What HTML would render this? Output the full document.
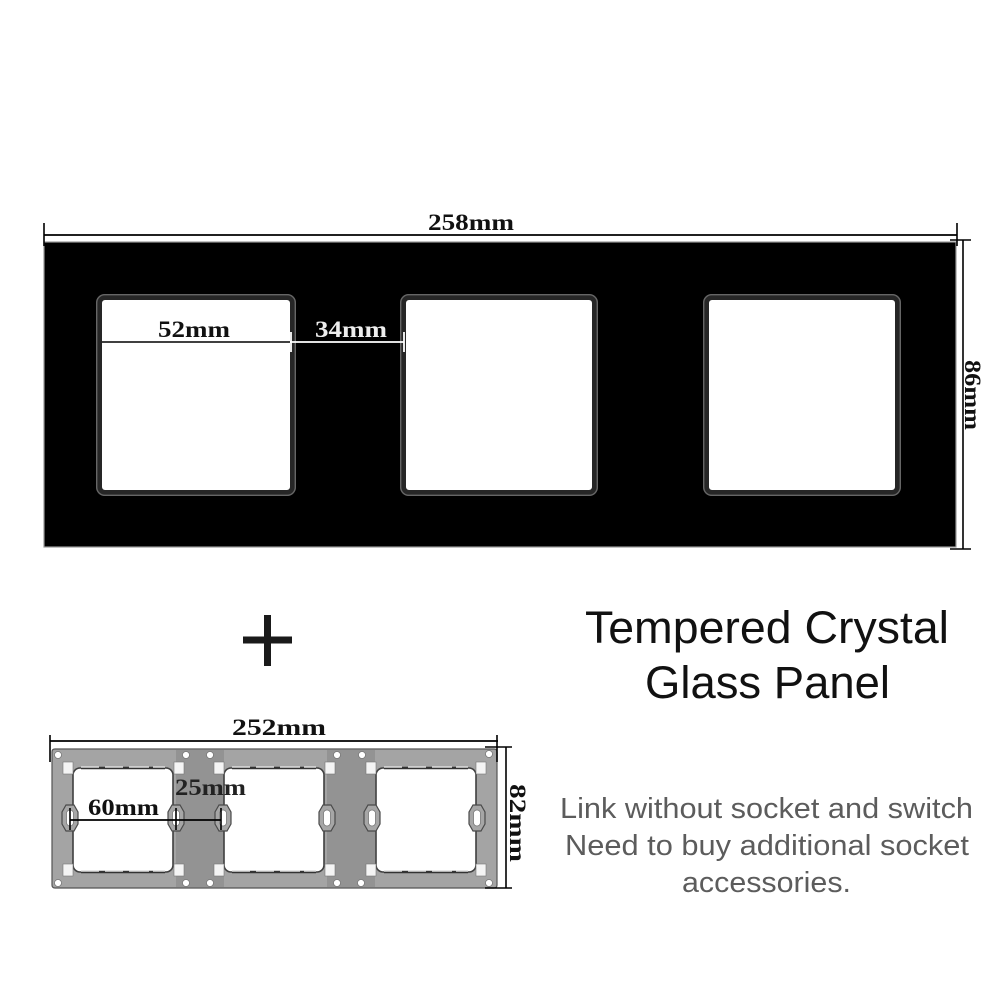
<!DOCTYPE html>
<html><head><meta charset="utf-8"><style>
html,body{margin:0;padding:0;background:#fff}
svg{display:block}
.s{font-family:"Liberation Serif",serif;font-weight:bold;font-size:23px}
.a{font-family:"Liberation Sans",sans-serif}
</style></head><body>
<svg width="1001" height="1001" viewBox="0 0 1001 1001" xmlns="http://www.w3.org/2000/svg">
<defs>
<g id="slot"><path d="M-4 -13 L4 -13 L8 -6 L8 6 L4 13 L-4 13 L-8 6 L-8 -6 Z" fill="#a6a6a6" stroke="#4a4a4a" stroke-width="1.2"/><rect x="-3.5" y="-8" width="7" height="16" rx="3.5" fill="#fff" stroke="#777" stroke-width=".8"/></g>
<g id="open"><rect x="0" y="0" width="100" height="104" rx="7" fill="#fff" stroke="#3f3f3f" stroke-width="1.6"/><path d="M8 0H92M8 104H92" stroke="#333" stroke-width="2.4"/><path d="M8 -1H26M32 -1H50M56 -1H76M80 -1H92M8 103H26M32 103H50M56 103H76M80 103H92" stroke="#ddd" stroke-width="1.4"/></g>
</defs>
<rect width="1001" height="1001" fill="#fff"/>

<!-- glass panel -->
<rect x="44" y="242" width="912" height="305" fill="#000" stroke="#999" stroke-width="1.2"/>
<g fill="#fff" stroke="#262626" stroke-width="6">
<rect x="99" y="297" width="194" height="196" rx="6"/>
<rect x="403" y="297" width="192" height="196" rx="6"/>
<rect x="706" y="297" width="192" height="196" rx="6"/>
</g>
<g fill="none" stroke="#666" stroke-width="1.4">
<rect x="96.700" y="294.700" width="198.600" height="200.600" rx="8"/>
<rect x="400.700" y="294.700" width="196.600" height="200.600" rx="8"/>
<rect x="703.700" y="294.700" width="196.600" height="200.600" rx="8"/>
</g>

<!-- top dims -->
<g stroke="#000" fill="none">
<path d="M44 235H957" stroke-width="1.8"/>
<path d="M44 223V246M957 223V246" stroke-width="1.6"/>
<path d="M950 240H971M950 549H971" stroke-width="1.6"/>
<path d="M963 240V549" stroke-width="1.6"/>
<path d="M102 342H290" stroke-width="1.6"/>
</g>
<path d="M290 342H404M291 332V352M404 332V352" stroke="#fff" stroke-width="1.8" fill="none"/>
<text class="s" x="428" y="230" textLength="86" lengthAdjust="spacingAndGlyphs" fill="#111">258mm</text>
<text class="s" x="158" y="337" textLength="72" lengthAdjust="spacingAndGlyphs" fill="#111">52mm</text>
<text class="s" x="315" y="337" textLength="72" lengthAdjust="spacingAndGlyphs" fill="#eee">34mm</text>
<text class="s" transform="translate(965,360) rotate(90)" textLength="70" lengthAdjust="spacingAndGlyphs" fill="#111">86mm</text>

<!-- plus -->
<path d="M243 640H292M267.5 615V666" stroke="#1a1a1a" stroke-width="7" fill="none"/>

<!-- bracket -->
<path d="M52 752Q52 749 55 749H494Q497 749 497 752V885Q497 888 494 888H55Q52 888 52 885Z" fill="#a4a4a4" stroke="#555" stroke-width="1.2"/>
<rect x="176" y="750" width="48" height="137" fill="#939393"/>
<rect x="327" y="750" width="48" height="137" fill="#939393"/>
<use href="#open" x="73" y="768"/>
<use href="#open" x="224" y="768"/>
<use href="#open" x="376" y="768"/>
<g fill="#f4f4f4" stroke="#777" stroke-width=".6">
<rect x="63" y="762" width="10" height="12"/><rect x="174" y="762" width="10" height="12"/>
<rect x="214" y="762" width="10" height="12"/><rect x="325" y="762" width="10" height="12"/>
<rect x="366" y="762" width="10" height="12"/><rect x="476" y="762" width="10" height="12"/>
<rect x="63" y="864" width="10" height="12"/><rect x="174" y="864" width="10" height="12"/>
<rect x="214" y="864" width="10" height="12"/><rect x="325" y="864" width="10" height="12"/>
<rect x="366" y="864" width="10" height="12"/><rect x="476" y="864" width="10" height="12"/>
</g>
<g fill="#fff" stroke="#777" stroke-width=".8">
<circle cx="58" cy="755" r="3.5"/><circle cx="186" cy="755" r="3.5"/><circle cx="210" cy="755" r="3.5"/><circle cx="337" cy="755" r="3.5"/><circle cx="362" cy="755" r="3.5"/><circle cx="489" cy="754" r="3.5"/>
<circle cx="58" cy="883" r="3.5"/><circle cx="186" cy="883" r="3.5"/><circle cx="210" cy="883" r="3.5"/><circle cx="337" cy="883" r="3.5"/><circle cx="361" cy="883" r="3.5"/><circle cx="489" cy="883" r="3.5"/>
</g>
<use href="#slot" x="70" y="818"/>
<use href="#slot" x="176" y="818"/>
<use href="#slot" x="223" y="818"/>
<use href="#slot" x="327" y="818"/>
<use href="#slot" x="372" y="818"/>
<use href="#slot" x="477" y="818"/>

<!-- bracket dims -->
<g stroke="#000" fill="none">
<path d="M50 741H498" stroke-width="1.8"/>
<path d="M50 735V762M497 735V762" stroke-width="1.6"/>
<path d="M485 747H512M485 888H512" stroke-width="1.6"/>
<path d="M506 747V888" stroke-width="1.6"/>
<path d="M70 820H221" stroke-width="1.8"/>
<path d="M70 808V830M176 808V830M221 808V830" stroke-width="1.6"/>
</g>
<text class="s" x="232" y="735" textLength="94" lengthAdjust="spacingAndGlyphs" fill="#111">252mm</text>
<text class="s" x="88" y="815" textLength="71" lengthAdjust="spacingAndGlyphs" fill="#111">60mm</text>
<text class="s" x="175" y="795" textLength="71" lengthAdjust="spacingAndGlyphs" fill="#222">25mm</text>
<text class="s" transform="translate(510,784) rotate(90)" textLength="78" lengthAdjust="spacingAndGlyphs" fill="#111">82mm</text>

<!-- right text -->
<text class="a" x="585" y="643" font-size="45" textLength="364" lengthAdjust="spacingAndGlyphs" fill="#111">Tempered Crystal</text>
<text class="a" x="645" y="698" font-size="45" textLength="245" lengthAdjust="spacingAndGlyphs" fill="#111">Glass Panel</text>
<text class="a" x="560" y="818" font-size="29" textLength="413" lengthAdjust="spacingAndGlyphs" fill="#5c5c5c">Link without socket and switch</text>
<text class="a" x="565" y="855" font-size="29" textLength="404" lengthAdjust="spacingAndGlyphs" fill="#5c5c5c">Need to buy additional socket</text>
<text class="a" x="682" y="892" font-size="29" textLength="169" lengthAdjust="spacingAndGlyphs" fill="#5c5c5c">accessories.</text>
</svg>
</body></html>
